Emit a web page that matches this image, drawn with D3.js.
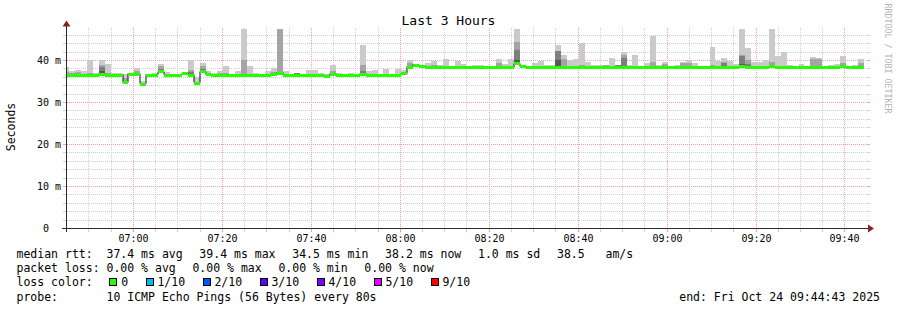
<!DOCTYPE html>
<html>
<head>
<meta charset="utf-8">
<style>
  body { margin: 0; background: #fff; }
  svg text { font-family: "DejaVu Sans Mono", monospace; white-space: pre; }
</style>
</head>
<body>
<div id="chart"></div>
<script src="https://cdn.jsdelivr.net/npm/d3@7/dist/d3.min.js"></script>
<script>
// smokeping style graph, 10 pings every 80s, values in ms
var stepSeconds = 80;
var firstStep = new Date(2025, 9, 24, 6, 44, 13);
var timeStart = new Date(2025, 9, 24, 6, 44, 57);
var timeEnd = new Date(2025, 9, 24, 9, 44, 57);

var median = [
  36.6,36.6,36.6,36.6,36.6,36.6,36.8,36.6,36.6,36.6,34.8,36.8,36.8,34.5,36.6,
  36.6,37.4,36.6,36.6,36.6,36.9,36.6,34.7,37.4,36.7,36.6,36.6,36.6,36.6,36.6,
  36.6,36.6,36.6,36.6,36.6,36.8,37.1,36.6,36.6,36.6,36.6,36.6,36.6,36.6,36.4,
  36.8,36.6,36.6,36.6,36.6,36.8,36.6,36.6,36.6,36.6,36.6,36.6,36.9,38.5,39.0,
  38.7,38.4,38.4,38.4,38.4,38.4,38.4,38.4,38.4,38.4,38.4,38.4,38.4,38.4,38.4,
  38.4,39.3,38.6,38.4,38.4,38.4,38.4,38.4,38.4,38.4,38.4,38.4,38.4,38.4,38.4,
  38.4,38.4,38.4,38.4,38.4,38.4,38.4,38.4,38.4,38.4,38.4,38.4,38.4,38.4,38.4,
  38.4,38.4,38.4,38.4,38.4,38.4,38.4,38.4,38.4,38.6,38.4,38.4,38.4,38.4,38.6,
  38.4,38.4,38.4,38.4,38.4,38.4,38.4,38.4,38.4,38.4,38.4,38.6,38.4,38.4,38.4
];
// highest ping of each step
var ping10 = [
  38.4,37.6,37.8,37.6,40.1,37.1,40.2,39.2,36.9,36.9,36.7,37.0,38.1,35.0,36.8,
  37.1,39.2,37.3,36.8,36.8,37.1,40.1,36.1,39.4,37.4,37.1,37.6,38.6,36.8,37.6,
  47.7,38.6,37.1,36.8,37.4,38.3,47.7,37.4,36.8,37.1,36.8,37.8,37.7,37.1,36.7,
  38.9,37.1,36.8,37.1,36.8,43.6,37.4,37.7,36.8,38.0,36.8,37.9,37.8,40.1,39.2,
  38.8,39.3,39.8,39.0,40.3,38.6,39.8,39.1,38.6,39.0,39.0,38.6,38.6,40.4,39.1,
  40.3,47.7,38.8,38.6,39.3,39.8,39.0,39.0,43.7,41.3,40.0,40.3,44.2,39.7,38.9,
  38.9,39.0,40.5,39.0,41.9,38.9,41.2,38.6,39.3,45.7,38.9,39.7,38.6,38.9,39.7,
  40.2,39.3,38.6,38.6,43.3,39.9,40.5,39.9,39.2,47.6,42.9,39.7,39.7,40.2,47.6,
  41.0,42.1,38.9,38.6,39.1,38.6,40.8,40.6,38.6,38.9,39.1,41.0,38.6,38.9,40.3
];
var ping9 = [
  37.2,37.0,37.3,null,37.0,null,38.9,37.0,null,null,35.8,null,37.5,null,null,
  null,38.6,null,null,null,null,37.7,null,38.7,null,null,37.0,37.0,null,null,
  40.1,null,null,null,null,37.2,47.6,null,null,37.1,null,null,null,null,null,
  37.6,null,null,null,null,39.0,null,null,null,null,null,null,null,39.5,null,
  null,null,39.0,null,null,null,null,null,null,null,null,null,null,39.5,null,
  null,44.5,null,null,null,null,null,null,42.3,40.3,null,null,39.0,null,null,
  null,38.9,null,39.0,41.3,null,null,null,null,39.7,null,39.1,null,null,39.4,
  39.5,null,null,null,38.8,null,39.7,null,null,41.2,40.1,null,null,null,39.7,
  null,null,null,null,null,null,40.4,40.4,null,null,null,39.4,null,null,39.4
];
var ping8 = [
  null,null,null,null,null,null,38.4,null,null,null,null,null,null,null,null,
  null,38.0,null,null,null,null,37.2,null,38.0,null,null,null,null,null,null,
  null,null,null,null,null,null,37.3,null,null,37.1,null,null,null,null,null,
  null,null,null,null,null,37.6,null,null,null,null,null,null,null,null,null,
  null,null,null,null,null,null,null,null,null,null,null,null,null,null,null,
  null,42.4,null,null,null,null,null,null,42.2,null,null,null,null,null,null,
  null,null,null,39.0,40.5,null,null,null,null,null,null,null,null,null,null,
  null,null,null,null,null,null,39.3,null,null,41.1,39.2,null,null,null,null,
  null,null,null,null,null,null,null,null,null,null,null,null,null,null,null
];
var ping7 = [
  null,null,null,null,null,null,37.5,null,null,null,null,null,null,null,null,
  null,null,null,null,null,null,null,null,null,null,null,null,null,null,null,
  null,null,null,null,null,null,null,null,null,null,null,null,null,null,null,
  null,null,null,null,null,null,null,null,null,null,null,null,null,null,null,
  null,null,null,null,null,null,null,null,null,null,null,null,null,null,null,
  null,40.0,null,null,null,null,null,null,40.0,null,null,null,null,null,null,
  null,null,null,null,null,null,null,null,null,null,null,null,null,null,null,
  null,null,null,null,null,null,null,null,null,39.2,null,null,null,null,null,
  null,null,null,null,null,null,null,null,null,null,null,null,null,null,null
];

var yTicks = [0, 10, 20, 30, 40];
var smokeGreys = ["#cacaca", "#a4a4a4", "#7e7e7e", "#585858"];
var lossLabels = ["0", "1/10", "2/10", "3/10", "4/10", "5/10", "9/10"];
var lossColors = ["#26ff00", "#00b8ff", "#0059ff", "#5e00ff", "#7e00ff", "#dd00ff", "#ff0000"];
var legendRows = [
  ["median rtt:  37.4 ms avg", "39.4 ms max", "34.5 ms min", "38.2 ms now", "1.0 ms sd", "38.5   am/s"],
  ["packet loss: 0.00 % avg", "0.00 % max", "0.00 % min", "0.00 % now"]
];
var probeText = "probe:       10 ICMP Echo Pings (56 Bytes) every 80s";
var endText = "end: Fri Oct 24 09:44:43 2025";

var width = 897, height = 310;
var plotLeft = 66.5, plotRight = 867, plotTop = 28.5, plotBottom = 228.5;

var svg = d3.select("#chart").append("svg")
    .attr("width", width)
    .attr("height", height);

var x = d3.scaleTime().domain([timeStart, timeEnd]).range([plotLeft, plotRight]);
var y = d3.scaleLinear().domain([0, 47.6]).range([plotBottom, plotTop]).clamp(true);

function px(v) { return Math.floor(v) + 0.5; }

//--------------------------------------------------------- grid
var grid = svg.append("g");
var hMinor = d3.range(2, 47.6, 2).filter(function(v) { return v % 10 != 0; });
var hMajor = [10, 20, 30, 40];
var vAll = d3.timeMinute.every(5).range(timeStart, timeEnd).filter(function(t) { return x(t) > 68; });
var vMajor = vAll.filter(function(t) { return t.getMinutes() % 20 == 0; });
var vMinor = vAll.filter(function(t) { return t.getMinutes() % 20 != 0; });

function hLines(vals, col) {
  vals.forEach(function(v) {
    var yy = px(y(v));
    grid.append("line").attr("x1", 67).attr("x2", 867).attr("y1", yy).attr("y2", yy)
      .attr("stroke", col).attr("stroke-dasharray", "1,1");
    grid.append("line").attr("x1", 63).attr("x2", 66).attr("y1", yy).attr("y2", yy).attr("stroke", col);
    grid.append("line").attr("x1", 867).attr("x2", 870).attr("y1", yy).attr("y2", yy).attr("stroke", col);
  });
}
function vLines(vals, col) {
  vals.forEach(function(t) {
    var xx = px(x(t));
    grid.append("line").attr("x1", xx).attr("x2", xx).attr("y1", 28).attr("y2", 228)
      .attr("stroke", col).attr("stroke-dasharray", "1,1");
    grid.append("line").attr("x1", xx).attr("x2", xx).attr("y1", 229).attr("y2", 232).attr("stroke", col);
  });
}
hLines(hMinor, "#cfcfcf");
vLines(vMinor, "#cfcfcf");
hLines(hMajor, "#f4a0a0");
vLines(vMajor, "#f4a0a0");

//--------------------------------------------------------- smoke
var steps = median.map(function(m, i) {
  var t0 = new Date(firstStep.getTime() + i * stepSeconds * 1000);
  var t1 = new Date(t0.getTime() + stepSeconds * 1000);
  return {
    x0: Math.max(Math.round(x(t0)), 67),
    x1: Math.min(Math.round(x(t1)), 867),
    med: m,
    p: [ping10[i], ping9[i], ping8[i], ping7[i]]
  };
});

var data = svg.append("g");
smokeGreys.forEach(function(col, k) {
  data.append("g").selectAll("rect")
    .data(steps.filter(function(d) { return d.p[k] != null; }))
    .join("rect")
      .attr("x", function(d) { return d.x0; })
      .attr("width", function(d) { return d.x1 - d.x0; })
      .attr("y", function(d) { return Math.round(y(d.p[k])); })
      .attr("height", function(d) { return Math.max(0, Math.round(y(d.med)) - Math.round(y(d.p[k]))); })
      .attr("fill", col);
});

// median: dark step line, loss coloured band on top
var pts = steps.map(function(d) { return [d.x0, px(y(d.med))]; });
pts.push([steps[steps.length - 1].x1, px(y(median[median.length - 1]))]);
data.append("path")
  .attr("d", d3.line().curve(d3.curveStepAfter)(pts))
  .attr("fill", "none")
  .attr("stroke", "#111")
  .attr("stroke-width", 1);

data.append("g").selectAll("rect")
  .data(steps)
  .join("rect")
    .attr("x", function(d) { return d.x0; })
    .attr("width", function(d) { return d.x1 - d.x0; })
    .attr("y", function(d) { return Math.round(y(d.med)) - 1; })
    .attr("height", 3)
    .attr("fill", lossColors[0]);

//--------------------------------------------------------- axes
svg.append("line").attr("x1", 66.5).attr("x2", 66.5).attr("y1", 232).attr("y2", 24)
  .attr("stroke", "#2c2c2c");
svg.append("line").attr("x1", 62).attr("x2", 870).attr("y1", 228.5).attr("y2", 228.5)
  .attr("stroke", "#2c2c2c");
svg.append("path").attr("d", "M66.5,20.5L62.5,26.5L70.5,26.5Z").attr("fill", "#8a2222");
svg.append("path").attr("d", "M874,228.5L868,224.5L868,232.5Z").attr("fill", "#8a2222");

svg.append("g").selectAll("text")
  .data(yTicks)
  .join("text")
    .attr("x", function(d) { return d == 0 ? 61 - 12.04 : 61; })
    .attr("y", function(d) { return px(y(d)) + 3.5; })
    .attr("text-anchor", "end")
    .style("font-size", "10px")
    .attr("fill", "#000")
    .text(function(d) { return d == 0 ? "0" : d + " m"; });

svg.append("g").selectAll("text")
  .data(vMajor)
  .join("text")
    .attr("x", function(d) { return px(x(d)); })
    .attr("y", 242)
    .attr("text-anchor", "middle")
    .style("font-size", "10px")
    .attr("fill", "#000")
    .text(d3.timeFormat("%H:%M"));

//--------------------------------------------------------- titles
svg.append("text")
  .attr("x", 448.5).attr("y", 24.5)
  .attr("text-anchor", "middle")
  .style("font-size", "13px")
  .text("Last 3 Hours");

svg.append("text")
  .attr("transform", "translate(15,127) rotate(-90)")
  .attr("text-anchor", "middle")
  .style("font-size", "11.5px")
  .text("Seconds");

svg.append("text")
  .attr("transform", "translate(885,3.5) rotate(90)")
  .style("font-size", "8.3px")
  .attr("fill", "#b4b4b4")
  .text("RRDTOOL / TOBI OETIKER");

//--------------------------------------------------------- legend
var lx0 = 16.5, gap = 16.7, rowY = [257.8, 272.1, 286.4, 300.7];

legendRows.forEach(function(items, r) {
  var lx = lx0;
  items.forEach(function(s) {
    var t = svg.append("text").attr("x", lx).attr("y", rowY[r])
      .style("font-size", "11.5px").text(s);
    lx += t.node().getComputedTextLength() + gap;
  });
});

var lc = svg.append("text").attr("x", lx0).attr("y", rowY[2])
  .style("font-size", "11.5px").text("loss color:");
var lx = lx0 + lc.node().getComputedTextLength() + gap;
lossLabels.forEach(function(lab, i) {
  svg.append("rect")
    .attr("x", Math.round(lx) + 0.5).attr("y", 278.5)
    .attr("width", 7).attr("height", 7)
    .attr("fill", lossColors[i]).attr("stroke", "#000");
  var t = svg.append("text").attr("x", lx + 11.8).attr("y", rowY[2])
    .style("font-size", "11.5px").text(lab);
  lx += 11.8 + t.node().getComputedTextLength() + 17.5;
});

svg.append("text").attr("x", lx0).attr("y", rowY[3])
  .style("font-size", "11.5px").text(probeText);
svg.append("text").attr("x", 880).attr("y", rowY[3])
  .attr("text-anchor", "end")
  .style("font-size", "11.5px").text(endText);
</script>
</body>
</html>
